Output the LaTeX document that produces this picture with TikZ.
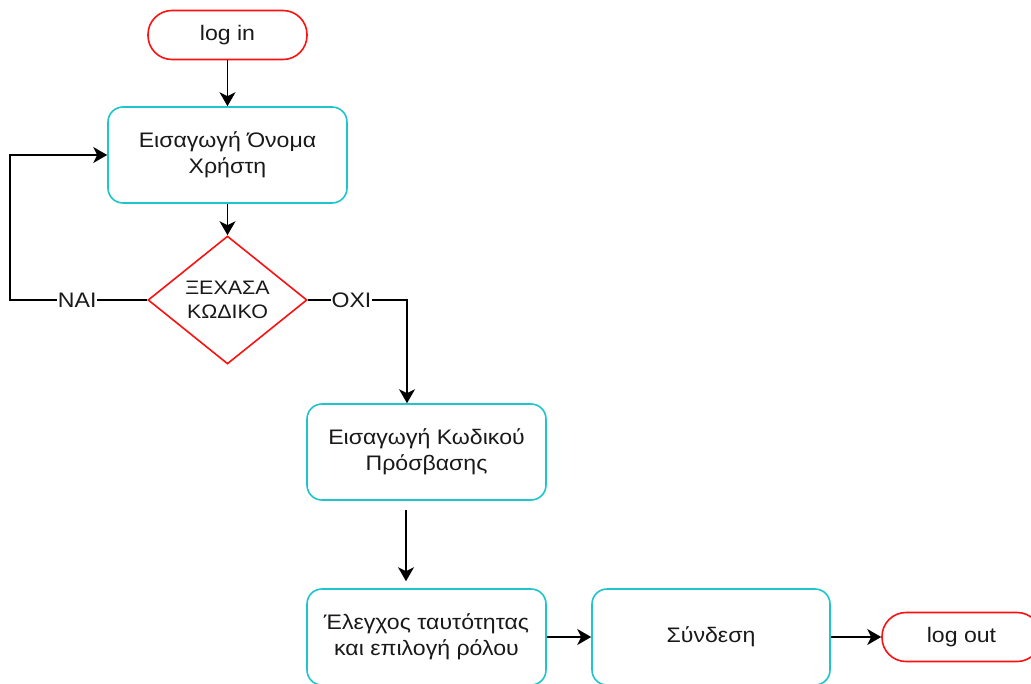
\documentclass[tikz,border=0pt]{standalone}
\usepackage{fontspec}
\setmainfont{Liberation Sans}[FakeStretch=1.1]
\usetikzlibrary{shapes.geometric,arrows.meta}
\definecolor{boxteal}{RGB}{32,196,204}
\definecolor{termred}{RGB}{255,16,16}
\tikzset{
  txt/.style={font=\fontsize{21}{26}\selectfont, text=black!90},
  terminal/.style={txt, draw=termred, line width=1.6pt, rounded corners=24pt,
    minimum width=159pt, minimum height=49pt, inner sep=0pt},
  process/.style={txt, draw=boxteal, line width=1.6pt, rounded corners=15pt,
    minimum width=239pt, minimum height=96pt, align=center, inner sep=0pt},
  decision/.style={txt, font=\fontsize{19.5}{24}\selectfont, diamond, draw=termred,
    line width=1.6pt, minimum width=159pt, minimum height=128pt, align=center, inner sep=0pt},
  arr/.style={-{Stealth[length=14pt,width=16pt,inset=4pt]}, line width=1.6pt, black},
  lbl/.style={txt, fill=white, inner sep=1pt}
}
\begin{document}
\begin{tikzpicture}[x=1pt,y=-1pt]
  \useasboundingbox (0,0) rectangle (1031,683);
  \clip (0,0) rectangle (1031,683);

  % flow nodes
  \node[terminal] (login) at (227.5,35) {log in};
  \node[process] (user) at (227.5,155) {Εισαγωγή Όνομα\\Χρήστη};
  \node[decision] (dec) at (227.5,300) {ΞΕΧΑΣΑ\\ΚΩΔΙΚΟ};
  \node[process] (pass) at (426.5,452) {Εισαγωγή Κωδικού\\Πρόσβασης};
  \node[process] (check) at (426.5,637) {Έλεγχος ταυτότητας\\και επιλογή ρόλου};
  \node[process, minimum width=238pt] (sync) at (711,637) {Σύνδεση};
  \node[terminal] (logout) at (961.5,637) {log out};

  % bend points of the decision branches
  \coordinate (yesbend) at (10,300);
  \coordinate (nobend) at (407,300);

  % connectors
  \draw[arr] (login) -- (user);
  \draw[arr] (user) -- (dec);
  \draw[arr] (dec.west) -- node[lbl, pos=0.51] {NAI} (yesbend) |- (user.west);
  \draw[arr] (dec.east) -- node[lbl, pos=0.44] {OXI} (nobend) -- (nobend |- pass.north);
  \draw[arr] ([xshift=-20.5pt,yshift=-9pt]pass.south) -- ([xshift=-20.5pt,yshift=7pt]check.north);
  \draw[arr] (check) -- (sync);
  \draw[arr] (sync) -- (logout);
\end{tikzpicture}
\end{document}
